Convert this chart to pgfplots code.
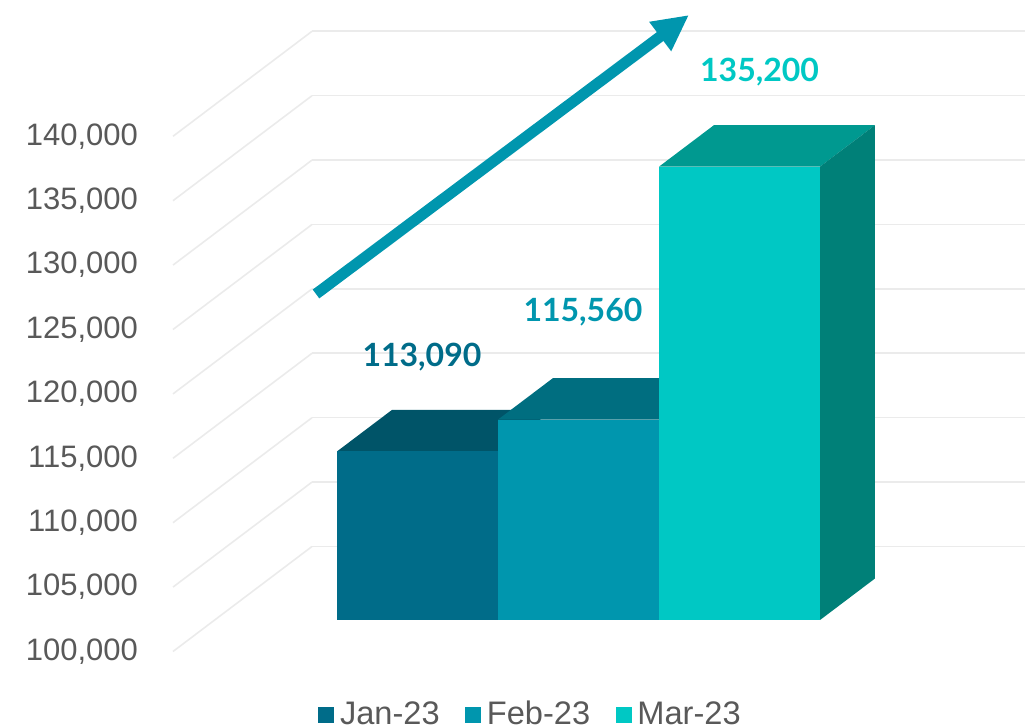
\documentclass[border=0pt]{standalone}
\usepackage{fontspec}
\setmainfont{Liberation Sans}
\newfontfamily\lato{Lato}
\usepackage{pgfplots}
\pgfplotsset{compat=1.18}
\usetikzlibrary{arrows.meta}
\definecolor{janF}{HTML}{006C89}
\definecolor{janT}{HTML}{005468}
\definecolor{febF}{HTML}{0096AE}
\definecolor{febT}{HTML}{006E80}
\definecolor{marF}{HTML}{00C8C4}
\definecolor{marT}{HTML}{009990}
\definecolor{marS}{HTML}{008078}
\definecolor{tickgray}{HTML}{595959}
\definecolor{gridgray}{HTML}{EBEBEB}
\begin{document}
\begin{tikzpicture}
\begin{axis}[
  x={(80.5pt,0pt)}, y={(69.5pt,52.5pt)}, z={(0pt,0.00644pt)},
  xmin=0, xmax=4.536, ymin=0, ymax=1, zmin=100000, zmax=140000,
  clip=false,
  axis line style={draw=none},
  xtick=\empty, ytick=\empty,
  ztick={100000,105000,110000,115000,120000,125000,130000,135000,140000},
  scaled z ticks=false,
  major tick length=0pt,
  zmajorgrids=true,
  major grid style={gridgray, line width=0.8pt},
  zticklabel style={font=\fontsize{15.5}{18}\selectfont, text=tickgray, anchor=east, xshift=-14pt,
    /pgf/number format/fixed, /pgf/number format/precision=0,
    /pgf/number format/1000 sep={,}, /pgf/number format/assume math mode=true},
  legend style={at={(axis cs:2.232,0,95100)}, anchor=center, draw=none, fill=none,
    legend columns=3, font=\fontsize{16.3}{19}\selectfont, text=tickgray,
    /tikz/every even column/.append style={column sep=10pt},
    nodes={inner xsep=2.8pt, inner ysep=1pt}},
  legend image code/.code={\fill[#1] (0pt,-4pt) rectangle (8pt,4pt);},
  lbl/.style={draw=none, mark=none, forget plot, point meta=z, nodes near coords,
    every node near coord/.append style={font=\lato\bfseries\fontsize{16}{19}\selectfont,
      anchor=center, /pgf/number format/fixed, /pgf/number format/precision=0,
      /pgf/number format/1000 sep={,}, /pgf/number format/assume math mode=true}},
]
% Jan-23 : 113090
\addplot3[fill=janT, draw=none, forget plot] coordinates {(0.76,0.30,113090) (1.76,0.30,113090) (1.76,0.695,113090) (0.76,0.695,113090)};
\addplot3[fill=janF, draw=none, forget plot] coordinates {(0.76,0.30,100000) (1.76,0.30,100000) (1.76,0.30,113090) (0.76,0.30,113090)};
% Feb-23 : 115560
\addplot3[fill=febT, draw=none, forget plot] coordinates {(1.76,0.30,115560) (2.76,0.30,115560) (2.76,0.695,115560) (1.76,0.695,115560)};
\addplot3[fill=febF, draw=none, forget plot] coordinates {(1.76,0.30,100000) (2.76,0.30,100000) (2.76,0.30,115560) (1.76,0.30,115560)};
% Mar-23 : 135200
\addplot3[fill=marT, draw=none, forget plot] coordinates {(2.76,0.30,135200) (3.76,0.30,135200) (3.76,0.695,135200) (2.76,0.695,135200)};
\addplot3[fill=marS, draw=none, forget plot] coordinates {(3.76,0.30,100000) (3.76,0.695,100000) (3.76,0.695,135200) (3.76,0.30,135200)};
\addplot3[fill=marF, draw=none, forget plot] coordinates {(2.76,0.30,100000) (3.76,0.30,100000) (3.76,0.30,135200) (2.76,0.30,135200)};
% data labels
\addplot3[lbl, every node near coord/.append style={text=janF, xshift=2.2pt, yshift=47pt}] coordinates {(1.26,0.30,113090)};
\addplot3[lbl, every node near coord/.append style={text=febF, xshift=2.2pt, yshift=53.8pt}] coordinates {(2.26,0.30,115560)};
\addplot3[lbl, every node near coord/.append style={text=marF, xshift=10pt, yshift=47.3pt}] coordinates {(3.26,0.30,135200)};
\addlegendimage{fill=janF, draw=none}\addlegendentry{Jan-23}
\addlegendimage{fill=febF, draw=none}\addlegendentry{Feb-23}
\addlegendimage{fill=marF, draw=none}\addlegendentry{Mar-23}
\coordinate (O) at (axis cs:0,0,100000);
\end{axis}
\draw[shift={(O)}, febF, line width=5.5pt, -{Triangle[length=18pt, width=17pt]}] (71.5pt,178.75pt) -- (258pt,318.25pt);
\pgfresetboundingbox
\path[shift={(O)}] (-86.5pt,-38.25pt) rectangle (426pt,325.75pt);
\end{tikzpicture}
\end{document}
